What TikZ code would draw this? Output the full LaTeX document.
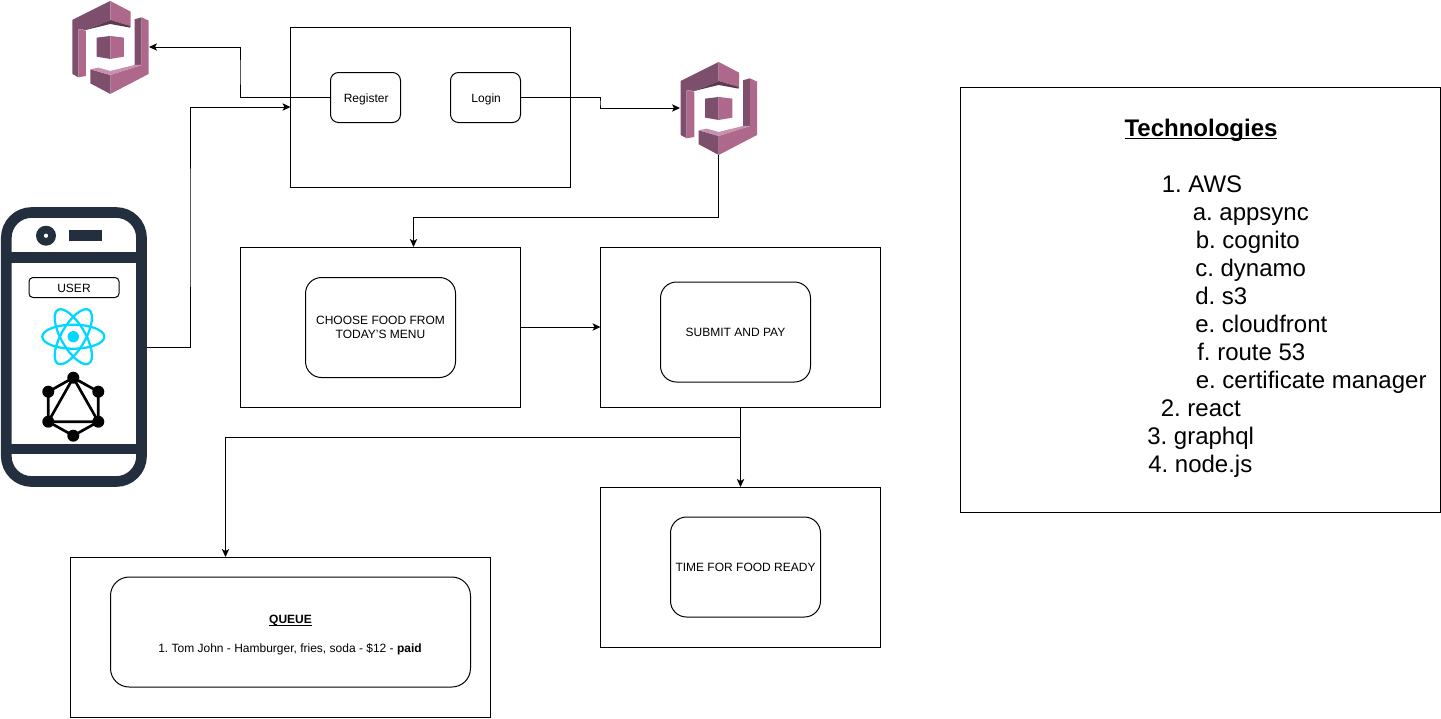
\documentclass[tikz,border=0pt]{standalone}
\usepackage{fontspec}
\setmainfont{Liberation Sans}
\usetikzlibrary{positioning,arrows.meta,calc}
\frenchspacing
\definecolor{awsDark}{HTML}{7D4F6D}
\definecolor{awsMid}{HTML}{AD688B}
\definecolor{awsShade}{HTML}{5C3A50}
\definecolor{awsPale}{HTML}{C690AE}
\definecolor{phoneInk}{HTML}{232F3E}
\definecolor{reactCyan}{HTML}{00D8FF}
\def\px{0.75pt}
\tikzset{
  panel/.style={draw, line width=\px, inner sep=0pt, outer sep=0pt, align=center},
  card/.style={panel, rounded corners=12pt, font=\fontsize{9}{10.5}\selectfont},
  oneline/.style={text height=7.2pt, text depth=0pt},
  btn/.style={card, oneline, rounded corners=6pt, minimum width=70*\px, minimum height=50*\px},
  ghost/.style={inner sep=0pt, outer sep=0pt},
  arr/.style={-{Stealth[length=6pt,width=5.5pt,inset=1.5pt]}, line width=\px},
  listline/.style={anchor=base west, inner sep=0pt, font=\fontsize{18}{18}\selectfont},
  cognito/.pic={
    \begin{scope}[x=0.25pt,y=-0.25pt,shift={(-181,-142)}]
      \fill[awsDark] (181,3) -- (67,60) -- (67,222) -- (85,232) -- (85,88) -- (108,90) -- (181,60) -- cycle;
      \fill[awsMid] (85,88) -- (108,92) -- (108,228) -- (85,232) -- cycle;
      \fill[awsMid] (181,3) -- (242,35) -- (242,78) -- (181,60) -- cycle;
      \fill[awsShade] (108,90) -- (181,60) -- (242,78) -- (240,83) -- (181,72) -- cycle;
      \fill[awsDark] (140,113) -- (181,108) -- (181,177) -- (140,170) -- cycle;
      \fill[awsMid] (181,108) -- (222,113) -- (222,170) -- (181,177) -- cycle;
      \fill[awsDark] (254,58) -- (275,52) -- (275,195) -- (254,195) -- cycle;
      \fill[awsMid] (275,52) -- (296,62) -- (296,222) -- (181,282) -- (181,225) -- (275,195) -- cycle;
      \fill[awsDark] (121,208) -- (181,225) -- (181,282) -- (121,250) -- cycle;
      \fill[awsPale] (121,208) -- (145,203) -- (181,213) -- (254,195) -- (275,195) -- (181,225) -- cycle;
    \end{scope}
  },
}
\begin{document}
\begin{tikzpicture}[x=\px,y=-\px]
  \useasboundingbox (0,0) rectangle (1441,718);
  % cognito icons
  \node[ghost, minimum width=77*\px, minimum height=94*\px] (cognitoA) at (110.5,47) {};
  \pic at (110.3,47.3) {cognito};
  \node[ghost, minimum width=77*\px, minimum height=94*\px] (cognitoB) at (718.5,108) {};
  \pic at (718.7,108.3) {cognito};
  % phone
  \node[ghost, minimum width=146*\px, minimum height=280*\px] (phone) at (74,347) {};
  \draw[phoneInk, line width=8pt, rounded corners=19pt] (6.3,212.5) rectangle (141.5,481.5);
  \fill[phoneInk] (6,252.4) rectangle (142,263);
  \fill[phoneInk] (6,443.5) rectangle (142,454.2);
  \fill[phoneInk, even odd rule] (46,235.7) circle[radius=10] (46,235.7) circle[radius=2.3];
  \fill[phoneInk] (69,230.3) rectangle (102,241);
  \node[card, oneline, rounded corners=3pt, minimum width=90*\px, minimum height=20*\px] (user) at (74,287.5) {USER};
  % react
  \foreach \a in {0,60,120} {\draw[reactCyan, line width=1.7pt, rotate around={\a:(73.3,336.7)}] (73.3,336.7) ellipse[x radius=31, y radius=12];}
  \fill[reactCyan] (73.3,336.7) circle[radius=5.7];
  % graphql
  \draw[black, line width=2pt] (73.3,377.7) -- (98.3,391.7) -- (98.3,421.7) -- (73.3,435.7) -- (48.3,421.7) -- (48.3,391.7) -- cycle;
  \draw[black, line width=2pt] (73.3,377.7) -- (98.3,421.7) -- (48.3,421.7) -- cycle;
  \foreach \p in {(73.3,377.7),(98.3,391.7),(98.3,421.7),(73.3,435.7),(48.3,421.7),(48.3,391.7)} {\fill[black] \p circle[radius=6];}
  % panels
  \node[panel, minimum width=280*\px, minimum height=160*\px] (auth) at (430.5,107) {};
  \node[btn] (register) at (365.5,97.5) {\hspace{1pt}Register};
  \node[btn] (login) at (485.5,97.5) {\hspace{1pt}Login};
  \node[panel, minimum width=280*\px, minimum height=160*\px] (menu) at (380.5,327) {};
  \node[card, minimum width=150*\px, minimum height=100*\px] (choose) at (380.5,327.5) {CHOOSE FOOD FROM\\TODAY'S MENU};
  \node[panel, minimum width=280*\px, minimum height=160*\px] (order) at (740.5,327) {};
  \node[card, oneline, minimum width=150*\px, minimum height=100*\px] (submit) at (735.5,332) {SUBMIT AND PAY};
  \node[panel, minimum width=280*\px, minimum height=160*\px] (wait) at (740.5,567) {};
  \node[card, oneline, minimum width=150*\px, minimum height=100*\px] (ready) at (745.5,567) {TIME FOR FOOD READY};
  \node[panel, minimum width=420*\px, minimum height=160*\px] (kitchen) at (280.5,637) {};
  \node[card, rounded corners=14pt, minimum width=360*\px, minimum height=110*\px] (queue) at (290.5,632) {};
  \node[anchor=base, inner sep=0pt, font=\fontsize{9}{10.5}\selectfont\bfseries] (queueHead) at (290.5,623.5) {\underline{\smash{QUEUE}}};
  \node[anchor=base, inner sep=0pt, font=\fontsize{9}{10.5}\selectfont] (queueItem) at (290,652) {1. Tom John - Hamburger, fries, soda - \$12 - \textbf{paid}};
  % technologies
  \node[panel, minimum width=480*\px, minimum height=425*\px] (tech) at (1200.5,300) {};
  \node[anchor=base, inner sep=0pt, font=\fontsize{18}{18}\selectfont\bfseries] (techHead) at (1201,136) {\underline{\smash{Technologies}}};
  \foreach \i/\x/\y/\t in {1/1161.5/192/1. AWS,2/1192.5/220/a. appsync,3/1195.5/248/b. cognito,4/1195/276/c. dynamo,5/1195/304/d. s3,6/1195/332/e. cloudfront,7/1197/360/f. route 53,8/1195.5/388/e. certificate manager,9/1160.5/416/2. react,10/1147/444/3. graphql,11/1148/472/4. node.js}
    {\node[listline] (tech\i) at (\x,\y) {\t};}
  % connectors
  \coordinate (bendA) at (240,72);
  \coordinate (bendB) at (600,103);
  \coordinate (bendC) at (190,228);
  \coordinate (chooseIn) at (413.5,247);
  \coordinate (queueIn) at (225.5,557);
  \coordinate (split) at (740.5,437);
  \draw[arr] (register.west) -| (bendA) |- (cognitoA.east);
  \draw[arr] (login.east) -| (bendB) |- (cognitoB.west);
  \draw[arr] (phone.east) -| (bendC) |- (auth.west);
  \draw[arr] (cognitoB.south) |- ($(chooseIn)+(0,-30)$) -- (chooseIn);
  \draw[arr] (menu.east) -- (order.west);
  \draw[arr] (order.south) -- (wait.north);
  \draw[arr] (split) -| (queueIn);
\end{tikzpicture}
\end{document}
